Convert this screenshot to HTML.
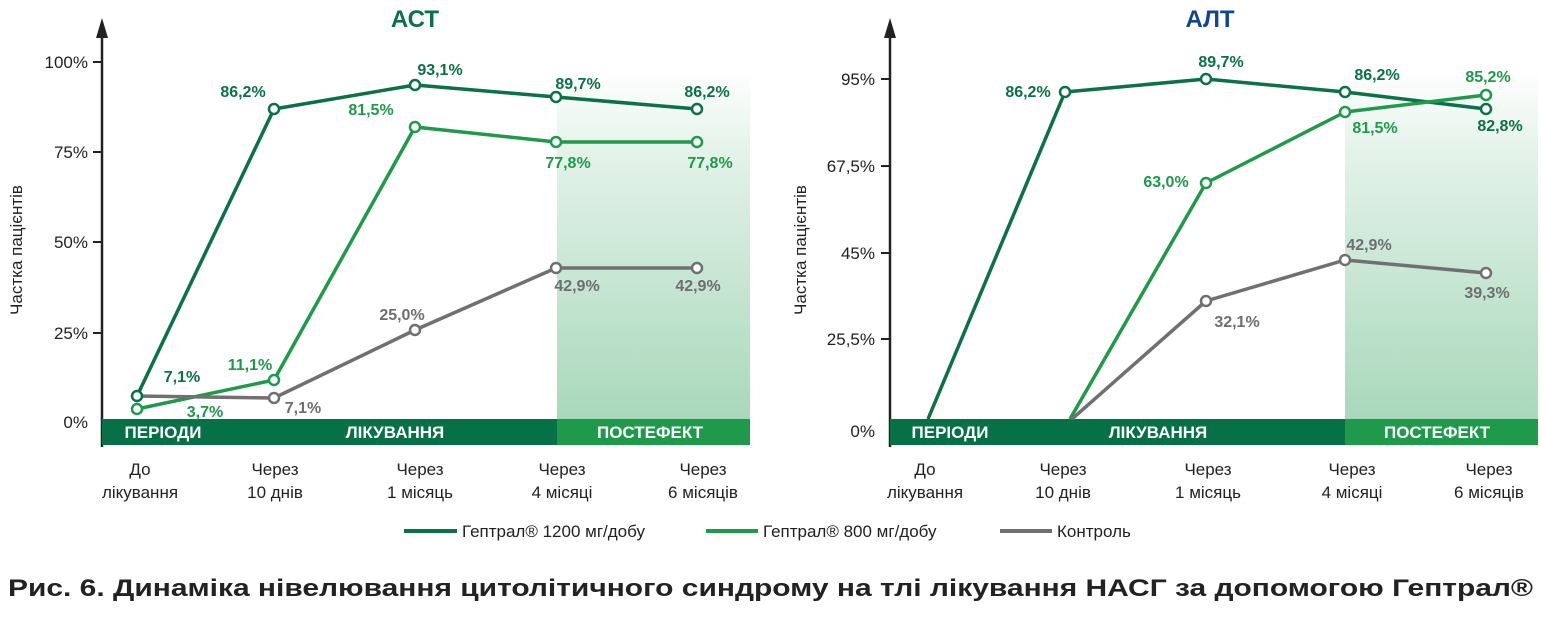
<!DOCTYPE html>
<html><head><meta charset="utf-8"><style>
body{margin:0;background:#fff;width:1541px;height:615px;overflow:hidden}
text{font-family:"Liberation Sans Narrow","Liberation Sans","DejaVu Sans",sans-serif}
.t{font-size:17px;fill:#222}
.v{font-size:16px;font-weight:bold}
.d{fill:#0b7148}.m{fill:#1e9a4a}.g{fill:#6d6e70}
.b{font-size:17px;fill:#fff;font-weight:bold}
</style></head><body>
<svg width="1541" height="615" viewBox="0 0 1541 615" xmlns="http://www.w3.org/2000/svg">
<defs>
<linearGradient id="sh" x1="0" y1="0" x2="0" y2="1">
<stop offset="0" stop-color="#fff"/><stop offset="0.25" stop-color="#e2f2e8"/><stop offset="1" stop-color="#a8d8bb"/>
</linearGradient>
</defs>

<!-- LEFT -->
<rect x="557" y="70" width="193" height="350" fill="url(#sh)"/>
<text x="415" y="27" text-anchor="middle" font-size="24" font-weight="bold" fill="#0b7148">АСТ</text>
<line x1="102" y1="30" x2="102" y2="447" stroke="#222" stroke-width="2.5"/>
<polygon points="102,18 96,38 108,38" fill="#222"/>
<g stroke="#222" stroke-width="2"><line x1="93" y1="62" x2="102" y2="62"/><line x1="93" y1="152" x2="102" y2="152"/><line x1="93" y1="242" x2="102" y2="242"/><line x1="93" y1="333" x2="102" y2="333"/></g>
<g class="t" text-anchor="end"><text x="88" y="68">100%</text><text x="88" y="158">75%</text><text x="88" y="248">50%</text><text x="88" y="339">25%</text><text x="88" y="428">0%</text></g>
<text class="t" transform="translate(22,250) rotate(-90)" text-anchor="middle">Частка пацієнтів</text>
<rect x="102" y="419" width="455" height="26" fill="#067147"/>
<rect x="557" y="419" width="193" height="26" fill="#1f9a4a"/>
<text class="b" x="163" y="438" text-anchor="middle">ПЕРІОДИ</text>
<text class="b" x="395" y="438" text-anchor="middle">ЛІКУВАННЯ</text>
<text class="b" x="650" y="438" text-anchor="middle">ПОСТЕФЕКТ</text>
<g fill="none" stroke-width="3.5" stroke-linejoin="round">
<polyline points="137,409 274,380 415,127 556,142 697,142" stroke="#1e9a4a"/>
<polyline points="137,396 274,398 415,330 556,268 697,268" stroke="#707070"/>
<polyline points="137,396 274,109 415,85 556,97 697,109" stroke="#0b7148"/>
</g>
<g fill="#fff" stroke-width="2.5">
<g stroke="#1e9a4a"><circle cx="137" cy="409" r="5"/><circle cx="274" cy="380" r="5"/><circle cx="415" cy="127" r="5"/><circle cx="556" cy="142" r="5"/><circle cx="697" cy="142" r="5"/></g>
<g stroke="#707070"><circle cx="274" cy="398" r="5"/><circle cx="415" cy="330" r="5"/><circle cx="556" cy="268" r="5"/><circle cx="697" cy="268" r="5"/></g>
<g stroke="#0b7148"><circle cx="137" cy="396" r="5"/><circle cx="274" cy="109" r="5"/><circle cx="415" cy="85" r="5"/><circle cx="556" cy="97" r="5"/><circle cx="697" cy="109" r="5"/></g>
</g>
<g class="v">
<text class="d" x="243" y="97" text-anchor="middle">86,2%</text>
<text class="d" x="440" y="75" text-anchor="middle">93,1%</text>
<text class="d" x="578" y="89" text-anchor="middle">89,7%</text>
<text class="d" x="707" y="97" text-anchor="middle">86,2%</text>
<text class="d" x="182" y="382" text-anchor="middle">7,1%</text>
<text class="m" x="371" y="115" text-anchor="middle">81,5%</text>
<text class="m" x="568" y="168" text-anchor="middle">77,8%</text>
<text class="m" x="710" y="168" text-anchor="middle">77,8%</text>
<text class="m" x="250" y="370" text-anchor="middle">11,1%</text>
<text class="m" x="205" y="417" text-anchor="middle">3,7%</text>
<text class="g" x="402" y="320" text-anchor="middle">25,0%</text>
<text class="g" x="577" y="291" text-anchor="middle">42,9%</text>
<text class="g" x="698" y="291" text-anchor="middle">42,9%</text>
<text class="g" x="303" y="413" text-anchor="middle">7,1%</text>
</g>
<g class="t" text-anchor="middle">
<text x="140" y="475">До</text><text x="140" y="498">лікування</text>
<text x="275" y="475">Через</text><text x="275" y="498">10 днів</text>
<text x="420" y="475">Через</text><text x="420" y="498">1 місяць</text>
<text x="562" y="475">Через</text><text x="562" y="498">4 місяці</text>
<text x="703" y="475">Через</text><text x="703" y="498">6 місяців</text>
</g>

<!-- RIGHT -->
<rect x="1345" y="70" width="193" height="350" fill="url(#sh)"/>
<text x="1210" y="27" text-anchor="middle" font-size="24" font-weight="bold" fill="#10468f">АЛТ</text>
<line x1="890" y1="30" x2="890" y2="447" stroke="#222" stroke-width="2.5"/>
<polygon points="890,18 884,38 896,38" fill="#222"/>
<g stroke="#222" stroke-width="2"><line x1="881" y1="79" x2="890" y2="79"/><line x1="881" y1="166" x2="890" y2="166"/><line x1="881" y1="253" x2="890" y2="253"/><line x1="881" y1="339" x2="890" y2="339"/></g>
<g class="t" text-anchor="end"><text x="875" y="85">95%</text><text x="875" y="172">67,5%</text><text x="875" y="259">45%</text><text x="875" y="345">25,5%</text><text x="875" y="437">0%</text></g>
<text class="t" transform="translate(806,250) rotate(-90)" text-anchor="middle">Частка пацієнтів</text>
<rect x="890" y="419" width="455" height="26" fill="#067147"/>
<rect x="1345" y="419" width="193" height="26" fill="#1f9a4a"/>
<text class="b" x="950" y="438" text-anchor="middle">ПЕРІОДИ</text>
<text class="b" x="1158" y="438" text-anchor="middle">ЛІКУВАННЯ</text>
<text class="b" x="1437" y="438" text-anchor="middle">ПОСТЕФЕКТ</text>
<g fill="none" stroke-width="3.5" stroke-linejoin="round">
<polyline points="928,419 1065,92 1206,79 1345,92 1486,109" stroke="#0b7148"/>
<polyline points="1070,419 1206,183 1345,112 1486,95" stroke="#1e9a4a"/>
<polyline points="1072,419 1206,301 1345,260 1486,273" stroke="#707070"/>
</g>
<g fill="#fff" stroke-width="2.5">
<g stroke="#0b7148"><circle cx="1065" cy="92" r="5"/><circle cx="1206" cy="79" r="5"/><circle cx="1345" cy="92" r="5"/><circle cx="1486" cy="109" r="5"/></g>
<g stroke="#1e9a4a"><circle cx="1206" cy="183" r="5"/><circle cx="1345" cy="112" r="5"/><circle cx="1486" cy="95" r="5"/></g>
<g stroke="#707070"><circle cx="1206" cy="301" r="5"/><circle cx="1345" cy="260" r="5"/><circle cx="1486" cy="273" r="5"/></g>
</g>
<g class="v">
<text class="d" x="1028" y="97" text-anchor="middle">86,2%</text>
<text class="d" x="1221" y="67" text-anchor="middle">89,7%</text>
<text class="d" x="1377" y="80" text-anchor="middle">86,2%</text>
<text class="d" x="1500" y="131" text-anchor="middle">82,8%</text>
<text class="m" x="1166" y="187" text-anchor="middle">63,0%</text>
<text class="m" x="1375" y="133" text-anchor="middle">81,5%</text>
<text class="m" x="1488" y="82" text-anchor="middle">85,2%</text>
<text class="g" x="1369" y="250" text-anchor="middle">42,9%</text>
<text class="g" x="1237" y="327" text-anchor="middle">32,1%</text>
<text class="g" x="1487" y="298" text-anchor="middle">39,3%</text>
</g>
<g class="t" text-anchor="middle">
<text x="925" y="475">До</text><text x="925" y="498">лікування</text>
<text x="1063" y="475">Через</text><text x="1063" y="498">10 днів</text>
<text x="1208" y="475">Через</text><text x="1208" y="498">1 місяць</text>
<text x="1352" y="475">Через</text><text x="1352" y="498">4 місяці</text>
<text x="1489" y="475">Через</text><text x="1489" y="498">6 місяців</text>
</g>

<!-- LEGEND -->
<g stroke-width="4">
<line x1="404" y1="531" x2="457" y2="531" stroke="#0b7148"/>
<line x1="706" y1="531" x2="758" y2="531" stroke="#1e9a4a"/>
<line x1="1000" y1="531" x2="1052" y2="531" stroke="#707070"/>
</g>
<g class="t">
<text x="462" y="537">Гептрал® 1200 мг/добу</text>
<text x="763" y="537">Гептрал® 800 мг/добу</text>
<text x="1057" y="537">Контроль</text>
</g>
<text x="8" y="596" font-size="24" font-weight="bold" fill="#222" style="font-family:'Liberation Sans',sans-serif" textLength="1525" lengthAdjust="spacingAndGlyphs">Рис. 6. Динаміка нівелювання цитолітичного синдрому на тлі лікування НАСГ за допомогою Гептрал®</text>
</svg>
</body></html>
